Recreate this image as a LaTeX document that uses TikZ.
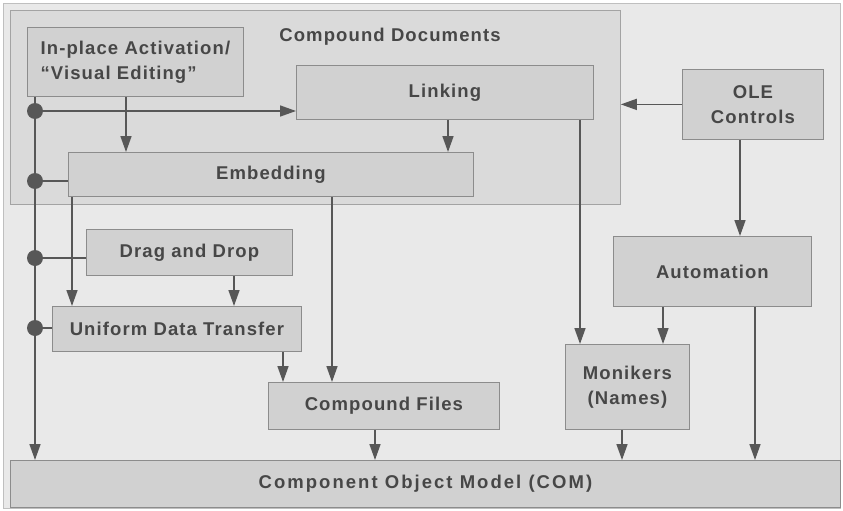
\documentclass[tikz,border=0pt]{standalone}
\usepackage{fontspec}
\setmainfont{Liberation Sans}[LetterSpace=6]
\newfontfamily\comfont{Liberation Sans}[LetterSpace=11]
\usetikzlibrary{arrows.meta}
\definecolor{bgc}{HTML}{E9E9E9}
\definecolor{cdc}{HTML}{DADADA}
\definecolor{boxc}{HTML}{D1D1D1}
\definecolor{edgec}{HTML}{8C8C8C}
\definecolor{txtc}{HTML}{474747}
\definecolor{arrc}{HTML}{575757}
\tikzset{
  lbl/.style={font=\bfseries\fontsize{18.5}{25}\selectfont, text=txtc},
  box/.style={lbl, draw=edgec, fill=boxc, line width=0.8pt, inner sep=0pt, anchor=north west, align=center},
  arr/.style={draw=arrc, line width=1.6pt, -{Triangle[length=16pt,width=11pt]}},
  plain/.style={draw=arrc, line width=1.6pt},
  busdot/.style={fill=arrc}
}
\begin{document}
\begin{tikzpicture}[x=1pt,y=-1pt]
\useasboundingbox (0,0) rectangle (843,511);
\fill[white] (0,0) rectangle (843,511);
\node[draw=gray!50, fill=bgc, line width=0.8pt, minimum width=837pt, minimum height=505pt, inner sep=0pt, anchor=north west] (bg) at (3,3) {};
\node[draw=edgec!80, fill=cdc, line width=0.8pt, minimum width=610pt, minimum height=194pt, inner sep=0pt, anchor=north west] (cd) at (10,10) {};
\node[lbl] (cdt) at (390,37) {Compound Documents};
% boxes
\node[box, minimum width=216pt, minimum height=69pt, align=left] (inplace) at (27,27) {In-place Activation/\\“Visual Editing”};
\node[box, minimum width=297pt, minimum height=54pt] (link) at (296,65) {Linking};
\node[box, minimum width=405pt, minimum height=44pt] (emb) at (68,152) {Embedding};
\node[box, minimum width=141pt, minimum height=70pt] (ole) at (682,69) {OLE\\Controls};
\node[box, minimum width=198pt, minimum height=70pt] (auto) at (613,236) {Automation};
\node[box, minimum width=206pt, minimum height=46pt] (dd) at (86,229) {Drag and Drop};
\node[box, minimum width=249pt, minimum height=45pt] (udt) at (52,306) {Uniform Data Transfer};
\node[box, minimum width=231pt, minimum height=47pt] (cf) at (268,382) {Compound Files};
\node[box, minimum width=124pt, minimum height=85pt] (mon) at (565,344) {Monikers\\(Names)};
\node[box, minimum width=830pt, minimum height=47pt, font=\comfont\bfseries\fontsize{18.5}{25}\selectfont] (com) at (10,460) {Component Object Model (COM)};
% column coordinates
\coordinate (xbus) at (35,0);
\coordinate (xa) at (126,0);
\coordinate (xb) at (448,0);
\coordinate (xc) at (740,0);
\coordinate (xd) at (580,0);
\coordinate (xe) at (72,0);
\coordinate (xf) at (332,0);
\coordinate (xg) at (234,0);
\coordinate (xh) at (283,0);
\coordinate (xi) at (663,0);
\coordinate (xj) at (755,0);
\coordinate (xk) at (622,0);
\coordinate (xl) at (375,0);
\coordinate (b1) at (35,111);
\coordinate (b2) at (35,181);
\coordinate (b3) at (35,258);
\coordinate (b4) at (35,328);
% bus
\draw[arr] (inplace.south -| xbus) -- (com.north -| xbus);
\draw[arr] (b1) -- (link.west |- b1);
\draw[plain] (b2) -- (emb.west |- b2);
\draw[plain] (b3) -- (dd.west |- b3);
\draw[plain] (b4) -- (udt.west |- b4);
\foreach \p in {b1,b2,b3,b4} \fill[busdot] (\p) circle (8);
% arrows
\draw[arr] (inplace.south -| xa) -- (emb.north -| xa);
\draw[arr] (link.south -| xb) -- (emb.north -| xb);
\draw[arr] (ole.west) -- (cd.east |- ole.west);
\draw[arr] (ole.south -| xc) -- (auto.north -| xc);
\draw[arr] (link.south -| xd) -- (mon.north -| xd);
\draw[arr] (emb.south -| xe) -- (udt.north -| xe);
\draw[arr] (emb.south -| xf) -- (cf.north -| xf);
\draw[arr] (dd.south -| xg) -- (udt.north -| xg);
\draw[arr] (udt.south -| xh) -- (cf.north -| xh);
\draw[arr] (auto.south -| xi) -- (mon.north -| xi);
\draw[arr] (auto.south -| xj) -- (com.north -| xj);
\draw[arr] (mon.south -| xk) -- (com.north -| xk);
\draw[arr] (cf.south -| xl) -- (com.north -| xl);
\end{tikzpicture}
\end{document}
